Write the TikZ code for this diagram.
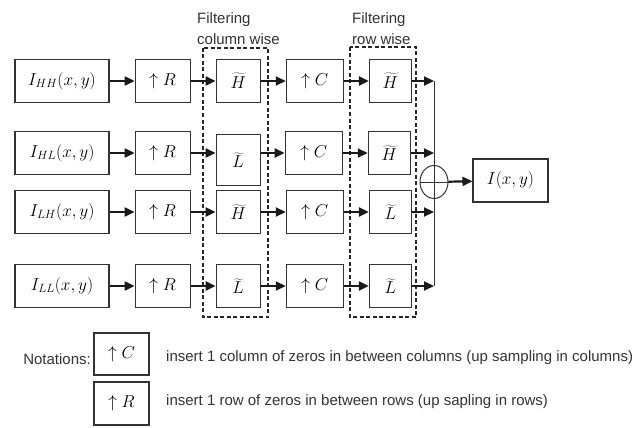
\documentclass[tikz,border=0pt]{standalone}
\usepackage[no-math]{fontspec}
\newfontfamily\arial{Liberation Sans}
\usetikzlibrary{arrows.meta,positioning,shapes.geometric}

\begin{document}
\begin{tikzpicture}[
  x=1pt,y=-1pt,
  node distance=25pt,
  block/.style={draw=black!80,line width=1.1pt,minimum height=43pt,inner sep=0pt,font=\fontsize{17}{20}\selectfont},
  filt/.style={block,minimum width=44pt},
  flow/.style={draw=black!90,line width=2.2pt,-{Triangle[length=10pt,width=9pt]}},
  group/.style={draw=black!85,line width=1.8pt,dash pattern=on 4pt off 2.5pt},
  note/.style={font=\arial\fontsize{15}{21}\selectfont,text=black!80,inner sep=0pt}
]
  \useasboundingbox (0,0) rectangle (643,428);

  \draw[group] (203,48) rectangle (268,317);
  \draw[group] (350,47) rectangle (416,317);
  \node[note,align=left,anchor=south west] (collabel) at (197,45) {Filtering\\column wise};
  \node[note,align=left,anchor=south west] (rowlabel) at (352,45) {Filtering\\row wise};

  \node[block,minimum width=94pt] (in1) at (62,81) {$I_{HH}(x,y)$};
  \node[block,minimum width=55pt,right=of in1] (r1) {$\uparrow R$};
  \node[filt,right=of r1] (f1) {$\widetilde{H}$};
  \node[block,minimum width=57pt,right=of f1] (c1) {$\uparrow C$};
  \node[filt,minimum width=42pt,right=of c1] (g1) {$\widetilde{H}$};

  \node[block,minimum width=94pt] (in2) at (62,153) {$I_{HL}(x,y)$};
  \node[block,minimum width=55pt,right=of in2] (r2) {$\uparrow R$};
  \node[filt,minimum height=51pt,right=of r2,yshift=-7pt] (f2) {$\widetilde{L}$};
  \node[block,minimum width=57pt,right=of r2,xshift=69pt] (c2) {$\uparrow C$};
  \node[filt,minimum width=42pt,right=of c2] (g2) {$\widetilde{H}$};

  \node[block,minimum width=94pt] (in3) at (62,212) {$I_{LH}(x,y)$};
  \node[block,minimum width=55pt,right=of in3] (r3) {$\uparrow R$};
  \node[filt,right=of r3] (f3) {$\widetilde{H}$};
  \node[block,minimum width=57pt,right=of f3] (c3) {$\uparrow C$};
  \node[filt,minimum width=42pt,right=of c3] (g3) {$\widetilde{L}$};

  \node[block,minimum width=94pt] (in4) at (62,286) {$I_{LL}(x,y)$};
  \node[block,minimum width=55pt,right=of in4] (r4) {$\uparrow R$};
  \node[filt,right=of r4] (f4) {$\widetilde{L}$};
  \node[block,minimum width=57pt,right=of f4] (c4) {$\uparrow C$};
  \node[filt,minimum width=42pt,right=of c4] (g4) {$\widetilde{L}$};

  \node[draw=black!80,line width=1pt,ellipse,minimum width=28pt,minimum height=33pt,inner sep=0pt] (sum) at (434,182) {};
  \node[block,minimum width=75pt] (out) at (510.5,180.5) {$I(x,y)$};

  \draw[flow] (in1) -- (r1);
  \draw[flow] (r1) -- (f1);
  \draw[flow] (f1) -- (c1);
  \draw[flow] (c1) -- (g1);
  \draw[flow] (g1) -- (g1 -| sum);
  \draw[flow] (in2) -- (r2);
  \draw[flow] (r2) -- (r2 -| f2.west);
  \draw[flow] (r2 -| f2.east) -- (c2);
  \draw[flow] (c2) -- (g2);
  \draw[flow] (g2) -- (g2 -| sum);
  \draw[flow] (in3) -- (r3);
  \draw[flow] (r3) -- (f3);
  \draw[flow] (f3) -- (c3);
  \draw[flow] (c3) -- (g3);
  \draw[flow] (g3) -- (g3 -| sum);
  \draw[flow] (in4) -- (r4);
  \draw[flow] (r4) -- (f4);
  \draw[flow] (f4) -- (c4);
  \draw[flow] (c4) -- (g4);
  \draw[flow] (g4) -- (g4 -| sum);

  \draw[draw=black!80,line width=1pt] (g1 -| sum) -- (g4 -| sum);
  \draw[draw=black!80,line width=1pt] (sum.west) -- (sum.east);
  \draw[flow] (sum) -- (out);

  \node[block,minimum width=55pt,minimum height=42pt] (nc) at (121.5,354) {$\uparrow C$};
  \node[block,minimum width=55pt] (nr) at (121.5,403.5) {$\uparrow R$};
  \node[note,anchor=east] (nlabel) at (91,359) {Notations:};
  \node[note,anchor=west] (ctext) at (166,358) {insert 1 column of zeros in between columns (up sampling in columns)};
  \node[note,anchor=west] (rtext) at (166,402) {insert 1 row of zeros in between rows (up sapling in rows)};
\end{tikzpicture}
\end{document}
